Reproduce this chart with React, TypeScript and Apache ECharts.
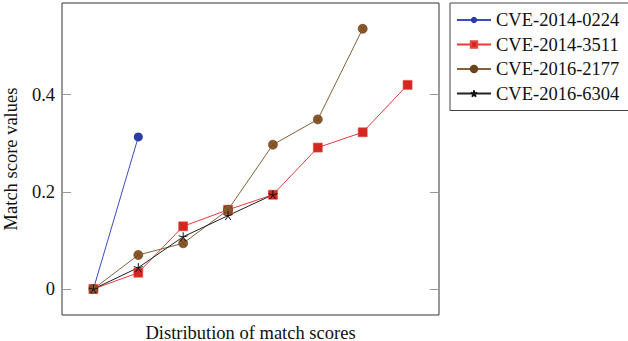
import React, { useEffect, useRef } from "react";
import * as echarts from "echarts";

const seriesNames = ["CVE-2014-0224", "CVE-2014-3511", "CVE-2016-2177", "CVE-2016-6304"];
const cve20140224 = [0, 0.313];
const cve20143511 = [0, 0.0335, 0.129, 0.163, 0.194, 0.291, 0.3225, 0.42];
const cve20162177 = [0, 0.07, 0.094, 0.163, 0.297, 0.349, 0.5355];
const cve20166304 = [0, 0.044, 0.1075, 0.151, 0.194];
const yTickValues = [0, 0.2, 0.4];
const xAxisTitle = "Distribution of match scores";
const yAxisTitle = "Match score values";

const FONT = "Liberation Serif";
const FS = 18.5;

const toPairs = (arr: number[]) => arr.map((v, i) => [i, v]);

const OTIMES = "path://M-1,0A1,1,0,1,1,1,0A1,1,0,1,1,-1,0Z M-0.707,-0.707L0.707,0.707 M0.707,-0.707L-0.707,0.707";
const STAR = "path://M0,-1L0,0M0.951,-0.309L0,0M0.588,0.809L0,0M-0.588,0.809L0,0M-0.951,-0.309L0,0";

export default function App() {
  const ref = useRef<HTMLDivElement>(null);
  useEffect(() => {
    if (!ref.current) return;
    const chart = echarts.init(ref.current, undefined, { renderer: "svg" });
    const yCommon = {
      type: "value" as const,
      min: -0.0535,
      max: 0.5885,
      splitLine: { show: false },
      axisLine: { show: false, onZero: false },
    };
    chart.setOption({
      animation: false,
      backgroundColor: "#fff",
      textStyle: { fontFamily: FONT },
      grid: {
        left: 62,
        top: 3,
        right: 189,
        bottom: 26,
        show: true,
        borderColor: "#333",
        borderWidth: 1,
        containLabel: false,
        outerBoundsMode: "none",
      },
      xAxis: {
        type: "value",
        min: -0.7,
        max: 7.7,
        axisLine: { show: false, onZero: false },
        axisTick: { show: false },
        axisLabel: { show: false },
        splitLine: { show: false },
        name: xAxisTitle,
        nameLocation: "middle",
        nameGap: 8,
        nameTextStyle: { fontFamily: FONT, fontSize: FS, color: "#111", verticalAlign: "top" },
      },
      yAxis: [
        {
          ...yCommon,
          position: "left",
          axisTick: {
            show: true,
            inside: true,
            length: 9,
            lineStyle: { color: "#999", width: 1 },
            customValues: yTickValues,
          },
          axisLabel: {
            show: true,
            margin: 7,
            fontFamily: FONT,
            fontSize: FS,
            color: "#111",
            customValues: yTickValues,
            formatter: (v: number) => (Math.abs(v) < 1e-9 ? "0" : String(Math.round(v * 10) / 10)),
          },
          name: yAxisTitle,
          nameLocation: "middle",
          nameGap: 40,
          nameTextStyle: { fontFamily: FONT, fontSize: FS, color: "#111" },
        },
        {
          ...yCommon,
          position: "right",
          axisTick: {
            show: true,
            inside: true,
            length: 9,
            lineStyle: { color: "#999", width: 1 },
            customValues: yTickValues,
          },
          axisLabel: { show: false },
        },
      ],
      legend: {
        orient: "vertical",
        left: 450,
        top: 3,
        padding: [7, 20, 7, 6],
        itemWidth: 34,
        itemHeight: 8,
        itemGap: 4.5,
        borderColor: "#444",
        borderWidth: 1,
        data: seriesNames,
        textStyle: { fontFamily: FONT, fontSize: FS, color: "#111", lineHeight: 20 },
      },
      series: [
        {
          name: seriesNames[0],
          type: "line",
          data: toPairs(cve20140224),
          symbol: "circle",
          symbolSize: 9,
          lineStyle: { color: "#3a4cc0", width: 1 },
          itemStyle: { color: "#2b3ca6" },
        },
        {
          name: seriesNames[1],
          type: "line",
          data: toPairs(cve20143511),
          symbol: "rect",
          symbolSize: 9,
          lineStyle: { color: "#ea3b3b", width: 1 },
          itemStyle: { color: "#d22820", borderColor: "#e04a40", borderWidth: 0.6 },
        },
        {
          name: seriesNames[2],
          type: "line",
          data: toPairs(cve20162177),
          symbol: OTIMES,
          symbolSize: 9,
          lineStyle: { color: "#86603a", width: 1 },
          itemStyle: { color: "#8c5a2b", borderColor: "#6a421c", borderWidth: 0.7 },
        },
        {
          name: seriesNames[3],
          type: "line",
          data: toPairs(cve20166304),
          symbol: STAR,
          symbolSize: 9,
          lineStyle: { color: "#222", width: 1 },
          itemStyle: { color: "#111", borderColor: "#111", borderWidth: 1 },
        },
      ],
    });
    return () => chart.dispose();
  }, []);
  return <div ref={ref} style={{ width: 628, height: 341, position: "absolute", left: 0, top: 0 }} />;
}
